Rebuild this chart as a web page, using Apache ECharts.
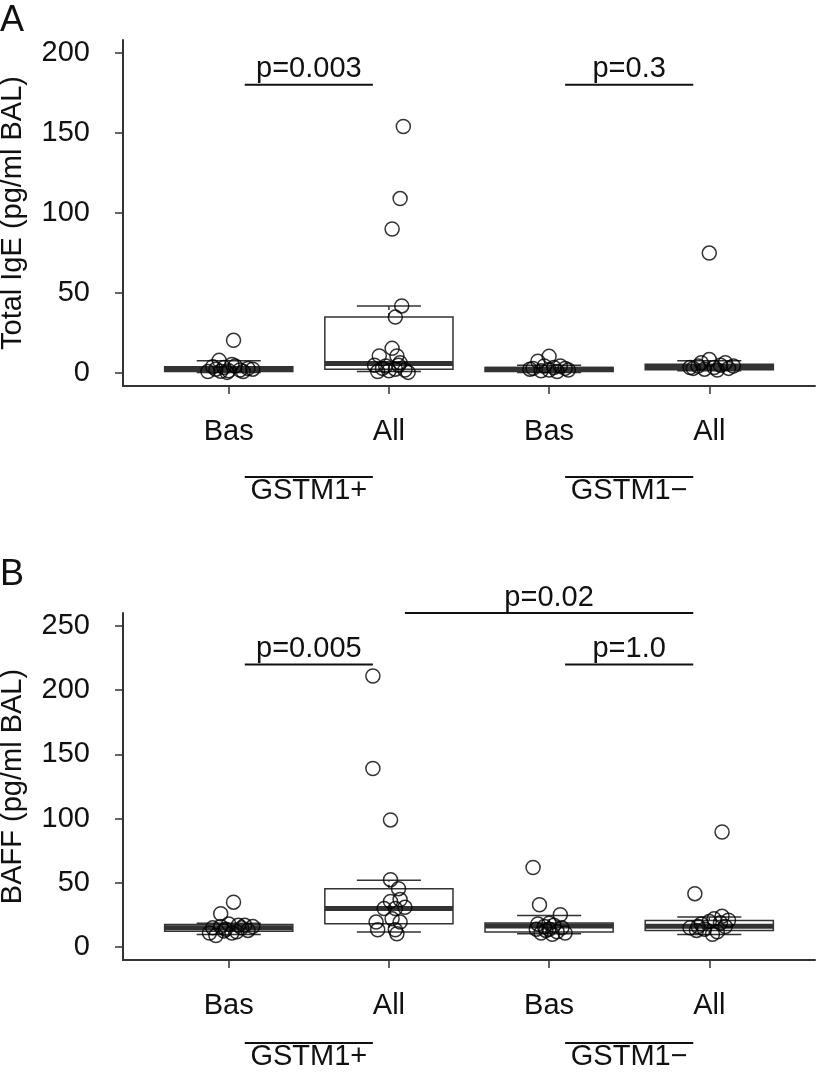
<!DOCTYPE html>
<html>
<head>
<meta charset="utf-8">
<script src="https://cdn.jsdelivr.net/npm/echarts@6/dist/echarts.min.js"></script>
<style>
  html, body { margin: 0; padding: 0; background: #fff; }
  #chart { width: 820px; height: 1080px; }
</style>
</head>
<body>
<div id="chart"></div>
<script>
// --- data ---
const groupPos = [1, 2, 3, 4];
const tickLabels = ['Bas', 'All', 'Bas', 'All'];
const genotypeLines = [[1.1, 1.9, 'GSTM1+'], [3.1, 3.9, 'GSTM1\u2212']];

// panel A: total IgE
const igeTicks = [0, 50, 100, 150, 200];
// [low whisker, q1, median, q3, high whisker]
const igeBoxes = [
    [0.5, 1, 2.5, 4, 7.7],
    [1, 2.5, 6, 35, 42],
    [0.5, 1, 2.5, 3.5, 5],
    [1.5, 2.1, 4, 5.6, 7.7]
];
// [jittered x, value]
const igePoints = [
    [1.03, 20.5], [0.94, 8], [0.87, 1], [0.92, 2.5], [0.97, 3.5], [1.0, 1.5], [1.04, 4.5], [1.09, 1],
    [1.12, 3], [1.07, 2], [0.9, 4], [1.15, 2.5], [0.99, 0.5], [1.02, 5.5], [0.95, 1.2],
    [2.09, 154], [2.07, 109], [2.02, 90], [2.08, 42], [2.04, 35], [2.02, 15.5], [1.94, 10.8], [2.05, 10.8],
    [1.91, 5], [2.07, 6.5], [1.96, 3], [2.0, 1.5], [2.1, 2], [2.12, 0.5], [1.98, 4.5], [2.04, 2.5], [1.93, 1], [2.06, 5],
    [3.0, 10.5], [2.93, 7.5], [2.9, 3], [2.95, 1.5], [3.0, 2], [3.05, 1], [3.1, 3], [3.12, 2],
    [2.97, 4.5], [3.07, 4.5], [2.88, 2.5], [3.03, 3.5],
    [4.0, 75], [4.0, 8.5], [3.95, 6.5], [4.1, 6.5], [3.9, 3], [3.93, 4.5], [4.03, 3.5], [4.07, 5],
    [4.12, 3], [3.97, 2.5], [4.05, 2], [4.15, 4.5], [3.88, 3.5]
];
const igeBrackets = [[1.1, 1.9, 180, 'p=0.003'], [3.1, 3.9, 180, 'p=0.3']];

// panel B: BAFF
const baffTicks = [0, 50, 100, 150, 200, 250];
const baffBoxes = [
    [9.9, 12.4, 15, 17.7, 18.5],
    [11.7, 18.2, 30, 45.5, 52],
    [10.4, 11.7, 16.5, 18.7, 24.7],
    [9.9, 13, 16.3, 20.8, 23.4]
];
const baffPoints = [
    [1.03, 35], [0.95, 26], [0.88, 11], [0.92, 9], [0.95, 16], [0.98, 14], [1.0, 18], [1.05, 12],
    [1.08, 15], [1.12, 13], [1.15, 16], [1.1, 17], [0.9, 15], [1.02, 11], [1.06, 17], [0.97, 12.5],
    [1.9, 211], [1.9, 139], [2.01, 99], [2.01, 52.5], [2.06, 45.5], [2.07, 37], [2.01, 35.6], [1.97, 30],
    [2.04, 30], [2.1, 31], [2.02, 22], [2.07, 19.5], [1.92, 19.5], [1.93, 13.5], [2.04, 13.5], [2.05, 10.4],
    [2.9, 62], [2.94, 33], [3.07, 25.2], [2.93, 18], [2.97, 16], [3.0, 14], [3.03, 17], [3.05, 12],
    [3.1, 11], [2.95, 11], [2.98, 13], [3.02, 10], [3.08, 15], [2.92, 14], [3.0, 18.5],
    [4.08, 89.6], [3.91, 41.6], [4.08, 24], [4.03, 22], [4.0, 20], [3.95, 18], [3.97, 14], [3.92, 13],
    [3.88, 15], [4.05, 12], [4.1, 16], [4.02, 10], [4.07, 19], [3.93, 16], [4.12, 21]
];
const baffBrackets = [[1.1, 1.9, 220, 'p=0.005'], [3.1, 3.9, 220, 'p=1.0'], [2.1, 3.9, 260, 'p=0.02']];

// --- styles ---
const FONT = '"Liberation Sans", Arial, Helvetica, sans-serif';
const INK = '#111';
const LINE = '#333';

function renderBox(params, api) {
    const x = api.value(0);
    const lo = api.value(1), q1 = api.value(2), md = api.value(3), q3 = api.value(4), hi = api.value(5);
    const hw = 0.4, cw = 0.2;
    const tl = api.coord([x - hw, q3]);
    const br = api.coord([x + hw, q1]);
    const mL = api.coord([x - hw, md]);
    const mR = api.coord([x + hw, md]);
    const cHiL = api.coord([x - cw, hi]), cHiR = api.coord([x + cw, hi]);
    const cLoL = api.coord([x - cw, lo]), cLoR = api.coord([x + cw, lo]);
    const cx = api.coord([x, 0])[0];
    const thin = { stroke: LINE, lineWidth: 1.5 };
    return {
        type: 'group',
        children: [
            { type: 'line', shape: { x1: cx, y1: tl[1], x2: cx, y2: cHiL[1] },
              style: { stroke: LINE, lineWidth: 1.5, lineDash: [4, 3] } },
            { type: 'line', shape: { x1: cx, y1: br[1], x2: cx, y2: cLoL[1] },
              style: { stroke: LINE, lineWidth: 1.5, lineDash: [4, 3] } },
            { type: 'line', shape: { x1: cHiL[0], y1: cHiL[1], x2: cHiR[0], y2: cHiR[1] }, style: thin },
            { type: 'line', shape: { x1: cLoL[0], y1: cLoL[1], x2: cLoR[0], y2: cLoR[1] }, style: thin },
            { type: 'rect', shape: { x: tl[0], y: tl[1], width: br[0] - tl[0], height: br[1] - tl[1] },
              style: { fill: 'none', stroke: LINE, lineWidth: 1.5 } },
            { type: 'line', shape: { x1: mL[0], y1: mL[1], x2: mR[0], y2: mR[1] }, style: { stroke: LINE, lineWidth: 5 } }
        ]
    };
}

function bracketRenderer(list) {
    return function (params, api) {
        const item = list[params.dataIndex];
        const a = api.coord([item[0], item[2]]);
        const b = api.coord([item[1], item[2]]);
        return {
            type: 'group',
            children: [
                { type: 'line', shape: { x1: a[0], y1: a[1], x2: b[0], y2: b[1] }, style: { stroke: INK, lineWidth: 2 } },
                { type: 'text', style: { text: item[3], x: (a[0] + b[0]) / 2, y: a[1] - 1, align: 'center', verticalAlign: 'bottom',
                  font: '29px ' + FONT, fill: INK } }
            ]
        };
    };
}

function genotypeRenderer(offset) {
    return function (params, api) {
        const item = genotypeLines[params.dataIndex];
        const a = api.coord([item[0], 0]);
        const b = api.coord([item[1], 0]);
        const y = params.coordSys.y + params.coordSys.height + offset;
        return {
            type: 'group',
            children: [
                { type: 'line', shape: { x1: a[0], y1: y, x2: b[0], y2: y }, style: { stroke: INK, lineWidth: 2 } },
                { type: 'text', style: { text: item[2], x: (a[0] + b[0]) / 2, y: y - 1, align: 'center', verticalAlign: 'top',
                  font: '29px ' + FONT, fill: INK } }
            ]
        };
    };
}

function xAxisFor(gridIndex) {
    return {
        type: 'value', gridIndex: gridIndex, min: 0.34, max: 4.66,
        axisLine: { show: true, onZero: false, lineStyle: { color: LINE, width: 2 } },
        axisTick: { show: true, length: 8, customValues: groupPos, lineStyle: { color: LINE, width: 1.5 } },
        axisLabel: {
            customValues: groupPos, margin: 31, fontSize: 29, fontFamily: FONT, color: INK,
            formatter: function (v) { return tickLabels[groupPos.indexOf(v)]; }
        },
        splitLine: { show: false }
    };
}

function yAxisFor(gridIndex, min, max, ticks, name) {
    return {
        type: 'value', gridIndex: gridIndex, min: min, max: max,
        name: name, nameLocation: 'middle', nameGap: 96,
        nameTextStyle: { fontSize: 29, fontFamily: FONT, color: INK },
        axisLine: { show: true, onZero: false, lineStyle: { color: LINE, width: 2 } },
        axisTick: { show: true, length: 8, customValues: ticks, lineStyle: { color: LINE, width: 1.5 } },
        axisLabel: { customValues: ticks, margin: 33, fontSize: 29, fontFamily: FONT, color: INK },
        splitLine: { show: false }
    };
}

const boxData = function (boxes) {
    return boxes.map(function (b, i) { return [groupPos[i]].concat(b); });
};

const pointStyle = {
    symbol: 'circle', symbolSize: 14,
    itemStyle: { color: 'rgba(0,0,0,0)', borderColor: '#000', borderWidth: 1.5 }
};

const chart = echarts.init(document.getElementById('chart'));
chart.setOption({
    animation: false,
    backgroundColor: '#fff',
    grid: [
        { left: 123, top: 40, width: 692, height: 346, outerBoundsMode: 'none' },
        { left: 123, top: 613, width: 692, height: 347, outerBoundsMode: 'none' }
    ],
    xAxis: [xAxisFor(0), xAxisFor(1)],
    yAxis: [
        yAxisFor(0, -8, 208, igeTicks, 'Total IgE (pg/ml BAL)'),
        yAxisFor(1, -10, 260, baffTicks, 'BAFF (pg/ml BAL)')
    ],
    graphic: [
        { type: 'text', left: 0, top: 3, style: { text: 'A', font: '36px ' + FONT, fill: INK } },
        { type: 'text', left: 0, top: 557, style: { text: 'B', font: '36px ' + FONT, fill: INK } }
    ],
    series: [
        { type: 'custom', xAxisIndex: 0, yAxisIndex: 0, renderItem: renderBox, data: boxData(igeBoxes),
          encode: { x: 0, y: [1, 2, 3, 4, 5] }, z: 2 },
        Object.assign({ type: 'scatter', xAxisIndex: 0, yAxisIndex: 0, data: igePoints, z: 3 }, pointStyle),
        { type: 'custom', xAxisIndex: 0, yAxisIndex: 0, renderItem: bracketRenderer(igeBrackets), data: igeBrackets.map(function (b) { return [b[0], b[2]]; }),
          clip: false, z: 4 },
        { type: 'custom', xAxisIndex: 0, yAxisIndex: 0, renderItem: genotypeRenderer(91), data: genotypeLines.map(function (g) { return [g[0], 0]; }),
          clip: false, z: 4 },

        { type: 'custom', xAxisIndex: 1, yAxisIndex: 1, renderItem: renderBox, data: boxData(baffBoxes),
          encode: { x: 0, y: [1, 2, 3, 4, 5] }, z: 2 },
        Object.assign({ type: 'scatter', xAxisIndex: 1, yAxisIndex: 1, data: baffPoints, z: 3 }, pointStyle),
        { type: 'custom', xAxisIndex: 1, yAxisIndex: 1, renderItem: bracketRenderer(baffBrackets), data: baffBrackets.map(function (b) { return [b[0], b[2]]; }),
          clip: false, z: 4 },
        { type: 'custom', xAxisIndex: 1, yAxisIndex: 1, renderItem: genotypeRenderer(83), data: genotypeLines.map(function (g) { return [g[0], 0]; }),
          clip: false, z: 4 }
    ]
});

window.addEventListener('resize', function () { chart.resize(); });
</script>
</body>
</html>
